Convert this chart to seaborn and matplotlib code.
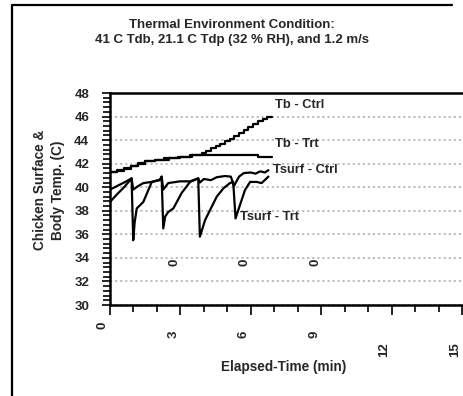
import matplotlib
matplotlib.use("Agg")
import matplotlib.pyplot as plt
import matplotlib.transforms as mtransforms
from matplotlib.lines import Line2D
from matplotlib.ticker import MultipleLocator
import seaborn as sns

# ---------------- data ----------------
tb_ctrl_x = [0.0, 0.3, 0.6, 0.9, 1.2, 1.5, 1.9, 2.5, 3.0, 3.5, 3.9, 4.1, 4.3, 4.5, 4.7,
             4.9, 5.1, 5.3, 5.5, 5.7, 5.9, 6.1, 6.3, 6.5, 6.7, 6.9]
tb_ctrl_y = [41.25, 41.4, 41.55, 41.8, 42.0, 42.2, 42.35, 42.45, 42.6, 42.75, 42.9, 43.1,
             43.3, 43.5, 43.7, 43.9, 44.1, 44.35, 44.6, 44.85, 45.1, 45.35, 45.6, 45.8,
             46.0, 46.0]

tb_trt_x = [0.0, 0.3, 0.6, 0.9, 1.2, 1.5, 1.9, 2.3, 2.9, 3.4, 3.7, 6.3, 6.9]
tb_trt_y = [41.25, 41.45, 41.6, 41.8, 42.05, 42.2, 42.3, 42.45, 42.55, 42.7, 42.75, 42.6, 42.6]

tsurf_ctrl_x = [0.00, 0.30, 0.60, 0.92, 0.99, 1.20, 1.42, 1.78, 2.13, 2.20, 2.27, 2.48,
                2.98, 3.41, 3.76, 3.83, 4.00, 4.30, 4.55, 4.90, 5.15, 5.28, 5.50, 5.70,
                6.00, 6.20, 6.40, 6.60, 6.75]
tsurf_ctrl_y = [39.8, 40.1, 40.4, 40.75, 39.8, 40.1, 40.35, 40.45, 40.6, 40.9, 39.8, 40.35,
                40.5, 40.5, 40.75, 40.4, 40.7, 40.6, 40.85, 40.95, 40.9, 40.1, 40.9, 41.2,
                41.25, 41.15, 41.35, 41.25, 41.45]

tsurf_trt_x = [0.00, 0.30, 0.60, 0.92, 0.99, 1.05, 1.14, 1.42, 1.60, 1.78, 2.13, 2.20,
               2.27, 2.35, 2.48, 2.70, 3.05, 3.41, 3.76, 3.83, 4.05, 4.26, 4.55, 4.83,
               5.11, 5.25, 5.35, 5.54, 5.75, 5.97, 6.25, 6.46, 6.75]
tsurf_trt_y = [38.75, 39.4, 40.0, 40.75, 35.5, 37.0, 38.2, 38.75, 39.6, 40.45, 40.65, 40.9,
               36.5, 37.5, 37.9, 38.2, 39.5, 40.45, 40.75, 35.8, 37.2, 38.05, 39.2, 39.9,
               40.35, 40.45, 37.35, 38.5, 39.75, 40.45, 40.45, 40.35, 40.9]

series_labels = ["Tb - Ctrl", "Tb - Trt", "Tsurf - Ctrl", "Tsurf - Trt"]
label_x = [7.03, 7.03, 6.96, 5.54]
label_y = [46.95, 43.65, 41.5, 37.45]

x_ticks = [0, 3, 6, 9, 12, 15]
x_tick_labels = ["0", "3", "6", "9", "12", "15"]
x_label_rows = [-0.094, -0.138, -0.138, -0.138, -0.212, -0.212]
y_ticks = [30, 32, 34, 36, 38, 40, 42, 44, 46, 48]

stray_x = [2.75, 5.75, 8.75]
stray_y = [33.6, 33.6, 33.6]
stray_text = ["0", "0", "0"]

title = "Thermal Environment Condition:\n41 C Tdb, 21.1 C Tdp (32 % RH), and 1.2 m/s"
x_title = "Elapsed-Time (min)"
y_title = "Chicken Surface &\nBody Temp. (C)"

# ---------------- style ----------------
sns.set_style("white")
plt.rcParams["font.family"] = ["Liberation Sans", "DejaVu Sans"]
plt.rcParams["font.weight"] = "bold"

fig = plt.figure(figsize=(4.64, 3.96), dpi=100)
ax = fig.add_axes([110 / 464, 1 - 305 / 396, 352 / 464, 212 / 396])

for xs, ys, ds in [(tb_ctrl_x, tb_ctrl_y, "steps-post"),
                   (tb_trt_x, tb_trt_y, "steps-post"),
                   (tsurf_ctrl_x, tsurf_ctrl_y, "default"),
                   (tsurf_trt_x, tsurf_trt_y, "default")]:
    sns.lineplot(x=xs, y=ys, ax=ax, color="black", linewidth=1.6,
                 estimator=None, sort=False, drawstyle=ds)

ax.set_xlim(0, 15)
ax.set_ylim(30, 48)
ax.set_yticks(y_ticks)
ax.set_yticklabels([str(v) for v in y_ticks], fontsize=9.5, fontweight="bold")
ax.yaxis.set_minor_locator(MultipleLocator(0.4))
ax.set_xticks(x_ticks)
ax.set_xticklabels([])
ax.xaxis.set_minor_locator(MultipleLocator(1))

ax.tick_params(axis="y", which="major", direction="out", length=6, width=1.4, pad=9,
               left=True, right=False)
ax.tick_params(axis="y", which="minor", direction="out", length=5, width=1.4, left=True,
               right=False)
ax.tick_params(axis="x", which="major", direction="out", length=7, width=1.4, bottom=True,
               top=False)
ax.tick_params(axis="x", which="minor", direction="out", length=5, width=1.4, bottom=True,
               top=False)

ax.yaxis.grid(True, which="major", color="#b8b8b8", linestyle=(0, (1.2, 1.6)), linewidth=1.3)
ax.xaxis.grid(False)
ax.set_axisbelow(True)

for side in ["left", "top", "bottom"]:
    ax.spines[side].set_visible(True)
    ax.spines[side].set_color("black")
    ax.spines[side].set_linewidth(1.8)
ax.spines["right"].set_visible(False)

# x tick labels (rotated, staggered)
offset = mtransforms.ScaledTranslation(-7 / 100, 0, fig.dpi_scale_trans)
xtrans = ax.get_xaxis_transform() + offset
for xv, lab, row in zip(x_ticks, x_tick_labels, x_label_rows):
    ax.text(xv, row, lab, transform=xtrans, rotation=90, ha="center", va="center",
            fontsize=9.5, fontweight="bold", clip_on=False)

# stray '0' marks inside the plot
for xv, yv, t in zip(stray_x, stray_y, stray_text):
    ax.text(xv, yv, t, rotation=90, ha="center", va="center", fontsize=9.5,
            fontweight="bold")

# series labels
for lab, xv, yv in zip(series_labels, label_x, label_y):
    ax.text(xv, yv, lab, ha="left", va="center", fontsize=9.3, fontweight="bold")

ax.set_xlabel(x_title, fontsize=9.8, fontweight="bold")
ax.xaxis.set_label_coords((284 - 110) / 352, (305 - 367) / 212)
ax.xaxis.label.set_va("center")
ax.set_ylabel(y_title, fontsize=9.8, fontweight="bold", linespacing=1.3)
ax.yaxis.set_label_coords((49 - 110) / 352, (305 - 190) / 212)
ax.yaxis.label.set_va("center")

fig.text(0.5, 1 - 32.5 / 396, title, ha="center", va="center", fontsize=9.5,
         fontweight="bold", linespacing=1.35)

# outer border (left and top only)
top_y = 1 - 5 / 396
left_x = 12 / 464
fig.add_artist(Line2D([left_x, left_x], [0.0, top_y], transform=fig.transFigure,
                      color="black", linewidth=1.6))
fig.add_artist(Line2D([left_x, 0.975], [top_y, top_y], transform=fig.transFigure,
                      color="black", linewidth=1.6))

fig.savefig("out.png", dpi=100)
